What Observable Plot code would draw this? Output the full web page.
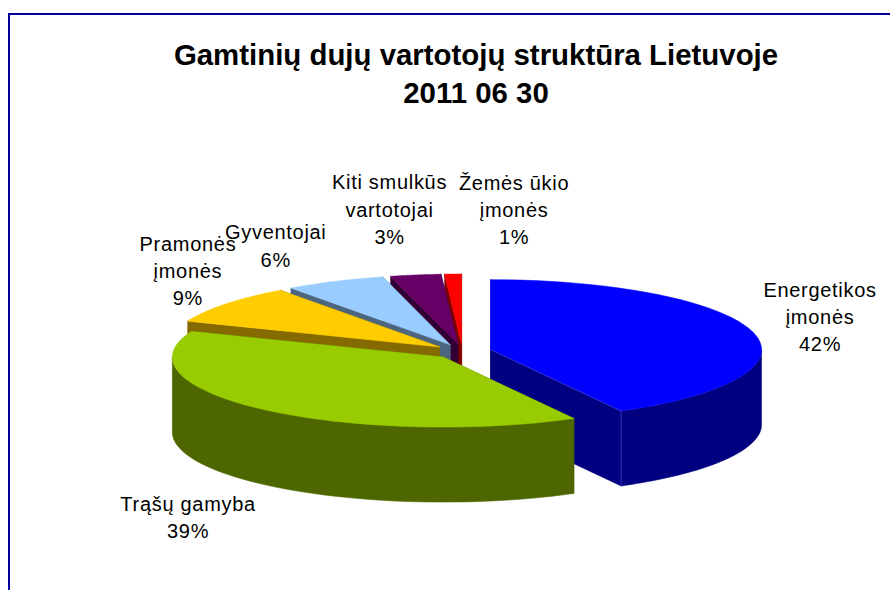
<!DOCTYPE html>
<html lang="lt">
<head>
<meta charset="utf-8">
<script src="https://cdn.jsdelivr.net/npm/d3@7"></script>
<script src="https://cdn.jsdelivr.net/npm/@observablehq/plot@0.6"></script>
<style>
html,body{margin:0;padding:0;background:#fff;overflow:hidden;width:890px;height:590px}
#frame{position:absolute;left:8px;top:13px;width:890px;height:590px;border-top:2px solid #000099;border-left:2px solid #000099;box-sizing:border-box;pointer-events:none}
#title{height:125px;box-sizing:border-box;padding:36px 0 0 0;width:952px;text-align:center;font:bold 29.4px/38px "Liberation Sans",Arial,sans-serif;color:#000}
#chart{display:block}
#chart svg{display:block;background:transparent}
</style>
</head>
<body>
<div id="frame"></div>
<div id="title">Gamtinių dujų vartotojų struktūra Lietuvoje<br>2011 06 30</div>
<div id="chart"></div>
<script>
// Clockwise from 12 o'clock
const categories = ["Energetikos\nįmonės", "Trąšų gamyba", "Pramonės\nįmonės", "Gyventojai", "Kiti smulkūs\nvartotojai", "Žemės ūkio\nįmonės"];
const shares = [42, 39, 9, 6, 3, 1];
const topColors = ["#0000ff", "#99cc00", "#ffcc00", "#99ccff", "#660066", "#ff0000"];
const sideColors = ["#000080", "#4d6600", "#856a00", "#4d6680", "#330033", "#800000"];
const labelDx = [67, -76, -37.5, -59, -26, 61];
const labelDy = [-17, 106, -35, -37, -67, -66];
const drawOrder = [5, 4, 3, 2, 0, 1];

// Pie projection
const cx = 462, cy = 351, rx = 271, ry = 70, depth = 75, explode = 29;
const total = d3.sum(shares);
const rad = d => d * Math.PI / 180;

let acc = 0;
const slices = shares.map((v, i) => {
  const a0 = acc / total * 360; acc += v;
  const a1 = acc / total * 360;
  const mid = rad((a0 + a1) / 2);
  const ax = cx + explode * Math.sin(mid);
  const ay = cy - explode * Math.cos(mid) * ry / rx;
  const rim = (deg, dz = 0) => ({x: ax + rx * Math.sin(rad(deg)), y: ay - ry * Math.cos(rad(deg)) + dz});
  return {i, a0, a1, ax, ay, rim};
});
const arc = (s, from, to, dz = 0) => d3.range(0, 49).map(k => s.rim(from + (to - from) * k / 48, dz));
const poly = (pts, color) => Plot.line([...pts, pts[0]], {x: "x", y: "y", fill: color, stroke: color, strokeWidth: 0.5, curve: "linear"});

const marks = [];
for (const idx of drawOrder) {
  const s = slices[idx];
  const apexTop = {x: s.ax, y: s.ay}, apexBot = {x: s.ax, y: s.ay + depth};
  const side = sideColors[idx], top = topColors[idx];
  for (const a of [s.a1, s.a0]) {
    marks.push(poly([s.rim(a), apexTop, apexBot, s.rim(a, depth)], side));
  }
  const w0 = Math.max(s.a0, 90), w1 = Math.min(s.a1, 270);
  if (w1 > w0) marks.push(poly([...arc(s, w0, w1), ...arc(s, w0, w1, depth).reverse()], side));
  marks.push(poly([apexTop, ...arc(s, s.a0, s.a1)], top));
  if (idx === 0) {
    marks.push(Plot.line([s.rim(s.a1, depth), s.rim(s.a1)], {x: "x", y: "y", stroke: "#3a3ac8", strokeWidth: 0.8}));
    marks.push(Plot.line([apexTop, s.rim(s.a1)], {x: "x", y: "y", stroke: "#3a3ac8", strokeWidth: 0.8}));
  }
}
slices.forEach((s, i) => {
  const p = s.rim((s.a0 + s.a1) / 2);
  marks.push(Plot.text([{...p, t: `${categories[i]}\n${shares[i]}%`}], {
    x: "x", y: "y", text: "t", dx: labelDx[i], dy: labelDy[i],
    fontSize: 20, lineHeight: 1.36, fill: "#000", textAnchor: "middle", lineAnchor: "middle"
  }));
});

const chart = Plot.plot({
  width: 890, height: 465,
  margin: 0,
  x: {domain: [0, 890], range: [0, 890], axis: null},
  y: {domain: [125, 590], range: [0, 465], axis: null},
  style: {fontFamily: '"Liberation Sans",Arial,sans-serif', background: "transparent", letterSpacing: "0.7px"},
  marks
});
document.getElementById("chart").appendChild(chart);
</script>
</body>
</html>
